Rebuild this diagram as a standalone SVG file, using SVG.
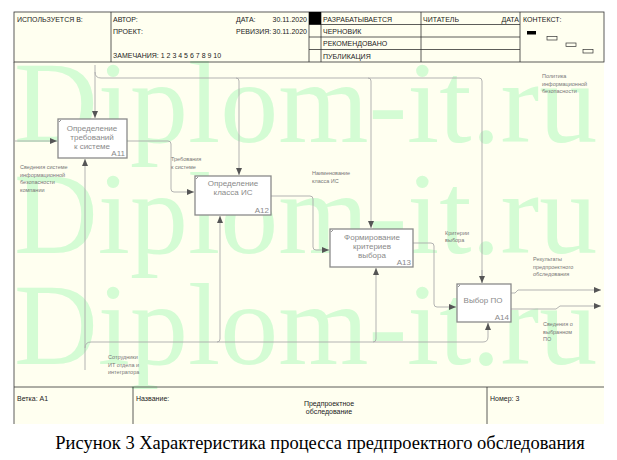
<svg xmlns="http://www.w3.org/2000/svg" width="617" height="460" viewBox="0 0 617 460">
<defs>
<marker id="ah" markerWidth="8" markerHeight="6" refX="7" refY="3" orient="auto" markerUnits="userSpaceOnUse">
<path d="M0,0 L7,3 L0,6 Z" fill="#555"/>
</marker>
<style>
.hd{font-family:"Liberation Sans",Arial,sans-serif;font-size:7px;fill:#222}
.ft{font-family:"Liberation Sans",Arial,sans-serif;font-size:7px;fill:#222}
.wm{font-family:"Liberation Serif","Times New Roman",serif;font-size:116px;fill:#d4fcd4}
.box{fill:#fff;stroke:#8a8a8a;stroke-width:1.3}
.nt{font-family:"Liberation Sans",Arial,sans-serif;font-size:8px;fill:#8a8a8a;text-anchor:middle}
.nn{font-family:"Liberation Sans",Arial,sans-serif;font-size:8px;fill:#8a8a8a;text-anchor:end}
.lb{font-family:"Liberation Sans",Arial,sans-serif;font-size:5.5px;fill:#777}
.cn{fill:none;stroke:#aaa;stroke-width:0.9}
.ar{marker-end:url(#ah)}
.tl{stroke:#333;stroke-width:0.8;fill:none}
.cap{font-family:"Liberation Serif","Times New Roman",serif;font-size:18.5px;fill:#000;text-anchor:middle}
</style>
</defs>
<rect width="617" height="460" fill="#fff"/>
<rect x="14" y="12" width="590" height="412" fill="#fffff0"/>
<g id="watermark">
<text class="wm" x="14" y="142">Diplom-it.ru</text>
<text class="wm" x="14" y="253">Diplom-it.ru</text>
<text class="wm" x="14" y="364">Diplom-it.ru</text>
</g>
<g id="header">
<rect class="tl" x="14" y="12" width="590" height="50"/>
<line class="tl" x1="111" y1="12" x2="111" y2="62"/>
<line class="tl" x1="309" y1="12" x2="309" y2="62"/>
<line class="tl" x1="321" y1="12" x2="321" y2="62"/>
<line class="tl" x1="421" y1="12" x2="421" y2="62"/>
<line class="tl" x1="520" y1="12" x2="520" y2="62"/>
<line class="tl" x1="309" y1="24.5" x2="520" y2="24.5"/>
<line class="tl" x1="309" y1="37" x2="520" y2="37"/>
<line class="tl" x1="309" y1="49.5" x2="520" y2="49.5"/>
<rect x="309" y="12" width="12" height="12.5" fill="#000"/>
<text class="hd" x="17" y="22">ИСПОЛЬЗУЕТСЯ В:</text>
<text class="hd" x="113" y="22">АВТОР:</text>
<text class="hd" x="113" y="34">ПРОЕКТ:</text>
<text class="hd" x="113" y="58">ЗАМЕЧАНИЯ:  1 2 3 4 5 6 7 8 9 10</text>
<text class="hd" x="236" y="22">ДАТА:</text>
<text class="hd" x="307" y="22" text-anchor="end">30.11.2020</text>
<text class="hd" x="236" y="34">РЕВИЗИЯ:</text>
<text class="hd" x="307" y="34" text-anchor="end">30.11.2020</text>
<text class="hd" x="323" y="21.5">РАЗРАБАТЫВАЕТСЯ</text>
<text class="hd" x="323" y="34">ЧЕРНОВИК</text>
<text class="hd" x="323" y="46">РЕКОМЕНДОВАНО</text>
<text class="hd" x="323" y="58.5">ПУБЛИКАЦИЯ</text>
<text class="hd" x="423" y="21.5">ЧИТАТЕЛЬ</text>
<text class="hd" x="519" y="21.5" text-anchor="end">ДАТА</text>
<text class="hd" x="523" y="21.5">КОНТЕКСТ:</text>
<rect x="527" y="31" width="9" height="3.5" fill="#000"/>
<rect x="547" y="36.5" width="10" height="3.5" fill="none" stroke="#333" stroke-width="0.7"/>
<rect x="566" y="43" width="10" height="3.5" fill="none" stroke="#333" stroke-width="0.7"/>
<rect x="583" y="49.5" width="10" height="3.5" fill="none" stroke="#333" stroke-width="0.7"/>
</g>
<line class="tl" x1="14" y1="62" x2="14" y2="387"/>
<g id="footer">
<line class="tl" x1="14" y1="387" x2="604" y2="387"/>
<line class="tl" x1="14" y1="387" x2="14" y2="424"/>
<line class="tl" x1="133" y1="387" x2="133" y2="424"/>
<line class="tl" x1="487" y1="387" x2="487" y2="424"/>
<text class="ft" x="17" y="401">Ветка: A1</text>
<text class="ft" x="136" y="401">Название:</text>
<text class="ft" x="329" y="406" text-anchor="middle">Предпроектное</text>
<text class="ft" x="329" y="414" text-anchor="middle">обследование</text>
<text class="ft" x="490" y="401">Номер: 3</text>
</g>
<g id="connectors">
<path class="cn ar" d="M95,65 V118"/>
<path class="cn" d="M95,72 Q95,78 101,78 H479 Q482,78 482,81 V283"/>
<path class="cn ar" d="M236,78 Q239,78 239,81 V175"/>
<path class="cn ar" d="M368,78 Q371,78 371,81 V228"/>
<path class="cn ar" d="M482,270 V283"/>
<path class="cn ar" d="M14,141 H57"/>
<path class="cn ar" d="M127,141 H168 Q171,141 171,144 V189 Q171,192 174,192 H194"/>
<path class="cn ar" d="M271,196 H310 Q313,196 313,199 V247 Q313,250 316,250 H329"/>
<path class="cn ar" d="M413,243 H431 Q434,243 434,246 V304 Q434,307 437,307 H456"/>
<path class="cn ar" d="M511,293 H515 L518,290 H601"/>
<path class="cn ar" d="M511,309 H556 L560,306 H601"/>
<path class="cn ar" d="M85,370 V159"/>
<path class="cn" d="M85,348 Q85,342 91,342 H483 Q488,342 488,337 V323"/>
<path class="cn ar" d="M488,330 V323"/>
<path class="cn ar" d="M217,342 Q220,342 220,339 V216"/>
<path class="cn ar" d="M373,342 Q376,342 376,339 V268"/>
</g>
<g id="A11">
<rect class="box" x="58" y="119" width="69" height="39"/>
<path d="M59,122 L61,120" stroke="#666" stroke-width="0.7"/>
<text class="nt" x="92" y="131">Определение</text>
<text class="nt" x="92" y="140">требований</text>
<text class="nt" x="92" y="149">к системе</text>
<text class="nn" x="125" y="156">A11</text>
</g>
<g id="A12">
<rect class="box" x="195" y="176" width="76" height="39"/>
<path d="M196,179 L198,177" stroke="#666" stroke-width="0.7"/>
<text class="nt" x="233" y="186">Определение</text>
<text class="nt" x="233" y="195">класса ИС</text>
<text class="nn" x="269" y="213">A12</text>
</g>
<g id="A13">
<rect class="box" x="330" y="229" width="83" height="38"/>
<path d="M331,232 L333,230" stroke="#666" stroke-width="0.7"/>
<text class="nt" x="372" y="240">Формирование</text>
<text class="nt" x="372" y="249">критериев</text>
<text class="nt" x="372" y="258">выбора</text>
<text class="nn" x="411" y="265">A13</text>
</g>
<g id="A14">
<rect class="box" x="457" y="284" width="54" height="38"/>
<path d="M458,287 L460,285" stroke="#666" stroke-width="0.7"/>
<text class="nt" x="483" y="303">Выбор ПО</text>
<text class="nn" x="509" y="320">A14</text>
</g>
<g id="labels">
<text class="lb" x="542" y="78">Политика</text>
<text class="lb" x="542" y="85.5">информационной</text>
<text class="lb" x="542" y="93">безопасности</text>
<text class="lb" x="20" y="169">Сведения системе</text>
<text class="lb" x="20" y="176.5">информационной</text>
<text class="lb" x="20" y="184">безопасности</text>
<text class="lb" x="20" y="191.5">компании</text>
<text class="lb" x="171" y="161">Требования</text>
<text class="lb" x="171" y="168.5">к системе</text>
<text class="lb" x="312" y="175">Наименование</text>
<text class="lb" x="312" y="182.5">класса ИС</text>
<text class="lb" x="445" y="235">Критерии</text>
<text class="lb" x="445" y="242">выбора</text>
<text class="lb" x="533" y="261">Результаты</text>
<text class="lb" x="533" y="268.5">предпроектного</text>
<text class="lb" x="533" y="276">обследования</text>
<text class="lb" x="543" y="326">Сведения о</text>
<text class="lb" x="543" y="333.5">выбранном</text>
<text class="lb" x="543" y="341">ПО</text>
<text class="lb" x="108" y="359">Сотрудники</text>
<text class="lb" x="108" y="366.5">ИТ отдела и</text>
<text class="lb" x="108" y="374">интегратора</text>
</g>
<text class="cap" x="320" y="449">Рисунок 3 Характеристика процесса предпроектного обследования</text>
</svg>
